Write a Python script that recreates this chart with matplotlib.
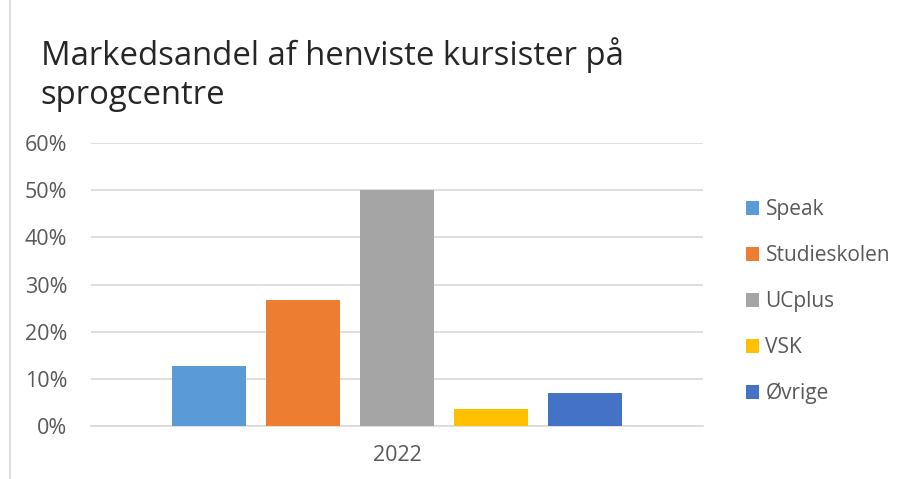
import matplotlib
matplotlib.use('Agg')
import matplotlib.pyplot as plt
from matplotlib.patches import Rectangle

# Data
categories = ["2022"]
series_names = ["Speak", "Studieskolen", "UCplus", "VSK", "Øvrige"]
series_values = [0.127, 0.267, 0.500, 0.036, 0.070]
series_colors = ["#5B9BD5", "#ED7D31", "#A5A5A5", "#FFC000", "#4472C4"]
y_ticks = [0, 0.1, 0.2, 0.3, 0.4, 0.5, 0.6]
y_tick_labels = ["0%", "10%", "20%", "30%", "40%", "50%", "60%"]

plt.rcParams['font.family'] = ['Open Sans', 'DejaVu Sans']

fig = plt.figure(figsize=(9.03, 4.79), dpi=100)
ax = fig.add_axes([0.1008, 0.1106, 0.6777, 0.5909])

# chart frame (light border like the office chart)
fig.patches.append(Rectangle((0.011, -0.01), 1.0, 1.02, transform=fig.transFigure,
                             fill=False, edgecolor="#D9D9D9", linewidth=1.2))

bar_w = 0.121
step = 0.1536
handles = []
for i, (name, val, col) in enumerate(zip(series_names, series_values, series_colors)):
    x = (i - 2) * step
    h = ax.bar(x, val, width=bar_w, color=col, label=name, zorder=3)
    handles.append(h)

ax.set_xlim(-0.5, 0.5)
ax.set_ylim(0, 0.6)
ax.set_yticks(y_ticks)
ax.set_yticklabels(y_tick_labels, color="#595959", fontsize=15.5)
ax.set_xticks([0])
ax.set_xticklabels(categories, color="#595959", fontsize=15.5)
ax.tick_params(axis='y', length=0, pad=17)
ax.tick_params(axis='x', length=0, pad=14)
ax.grid(axis='y', color="#D9D9D9", linewidth=1.2, zorder=0)
for s in ["top", "right", "left"]:
    ax.spines[s].set_visible(False)
ax.spines["bottom"].set_color("#D9D9D9")
ax.spines["bottom"].set_linewidth(1.2)

fig.text(0.045, 0.885, "Markedsandel af henviste kursister på", fontsize=23.7, color="#262626", va="center")
fig.text(0.045, 0.80, "sprogcentre", fontsize=23.7, color="#262626", va="center")

leg = fig.legend(handles=handles, loc="center left", bbox_to_anchor=(0.805, 0.37),
                 frameon=False, fontsize=15, handlelength=0.65, handleheight=0.65,
                 handletextpad=0.3, labelspacing=1.2, labelcolor="#595959")

fig.savefig("out.png", dpi=100)
